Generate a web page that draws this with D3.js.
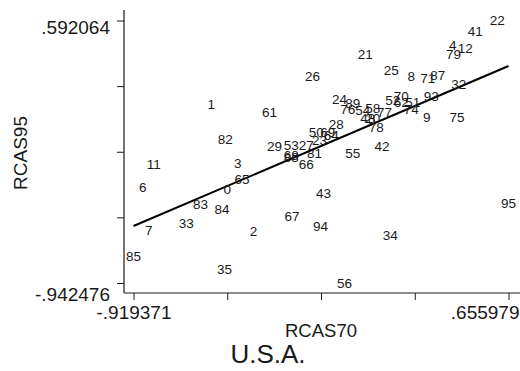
<!DOCTYPE html>
<html><head><meta charset="utf-8">
<script src="https://cdn.jsdelivr.net/npm/d3@7"></script>
<style>
html,body{margin:0;padding:0;background:#fff;}
svg{display:block;font-family:"Liberation Sans",Arial,sans-serif;}
</style></head>
<body>
<script>
const labels = ["22","41","4","12","79","21","25","26","8","71","87","32","93","9","75","1","61","82","24","89","76","54","58","77","48","20","78","28","52","70","62","51","74","50","69","64","29","53","27","23","68","88","81","66","11","6","3","65","0","83","84","33","7","2","85","35","67","94","43","55","42","34","56","95"];
const xValues = [0.609,0.516,0.422,0.474,0.425,0.054,0.163,-0.167,0.247,0.317,0.359,0.447,0.331,0.313,0.440,-0.593,-0.348,-0.534,-0.054,0.002,-0.019,0.044,0.086,0.135,0.065,0.086,0.100,-0.068,0.170,0.205,0.205,0.254,0.247,-0.152,-0.103,-0.089,-0.327,-0.257,-0.194,-0.138,-0.257,-0.257,-0.159,-0.194,-0.834,-0.880,-0.481,-0.464,-0.526,-0.638,-0.548,-0.698,-0.855,-0.415,-0.919371,-0.537,-0.253,-0.134,-0.121,0.002,0.125,0.159,-0.033,0.655979];
const yValues = [0.592064,0.532,0.449,0.430,0.394,0.394,0.299,0.268,0.268,0.254,0.273,0.219,0.147,0.030,0.030,0.102,0.059,-0.102,0.133,0.108,0.075,0.069,0.082,0.059,0.020,0.020,-0.029,-0.015,0.127,0.147,0.117,0.117,0.075,-0.058,-0.058,-0.077,-0.142,-0.136,-0.136,-0.107,-0.194,-0.206,-0.184,-0.247,-0.249,-0.385,-0.243,-0.336,-0.393,-0.482,-0.512,-0.593,-0.633,-0.639,-0.783,-0.862,-0.549,-0.608,-0.418,-0.181,-0.142,-0.662,-0.942476,-0.477];
const xTicks = [-0.919371,-0.525533,-0.131696,0.262142,0.655979];
const yTicks = [0.592064,0.208429,-0.175206,-0.558841,-0.942476];
const xTickLabels = ["-.919371","","","",".655979"];
const yTickLabels = [".592064","","","","-.942476"];
const fitIntercept = -0.0634;
const fitSlope = 0.5937;
const xTitle = "RCAS70", yTitle = "RCAS95", chartTitle = "U.S.A.";

const W = 520, H = 371;
const svg = d3.select("body").append("svg").attr("width", W).attr("height", H);
const x = d3.scaleLinear().domain([-0.919371, 0.655979]).range([133.5, 508.5]);
const y = d3.scaleLinear().domain([-0.942476, 0.592064]).range([283, 20.5]);
const axisX = 124, axisY = 293;
const ink = "#1a1a1a";

// axis lines
svg.append("line").attr("x1", axisX).attr("x2", axisX).attr("y1", 10).attr("y2", axisY).attr("stroke", ink).attr("stroke-width", 1.2);
svg.append("line").attr("x1", axisX).attr("x2", W).attr("y1", axisY).attr("y2", axisY).attr("stroke", ink).attr("stroke-width", 1.2);

// y axis ticks
const gy = svg.append("g").attr("transform", `translate(${axisX},0)`)
  .call(d3.axisLeft(y).tickValues(yTicks).tickSize(7).tickSizeOuter(0).tickFormat((d,i)=>yTickLabels[i]));
gy.select(".domain").remove();
gy.selectAll(".tick line").attr("stroke", ink);
gy.selectAll(".tick text").attr("font-size", 19).attr("fill", ink).attr("font-family", "Liberation Sans, Arial, sans-serif")
  .attr("x", -14).attr("dy", (d,i)=> i===0 ? "0.68em" : "0.9em");

// x axis ticks
const gx = svg.append("g").attr("transform", `translate(0,${axisY})`)
  .call(d3.axisBottom(x).tickValues(xTicks).tickSize(7).tickSizeOuter(0).tickFormat((d,i)=>xTickLabels[i]));
gx.select(".domain").remove();
gx.selectAll(".tick line").attr("stroke", ink);
gx.selectAll(".tick text").attr("font-size", 19).attr("fill", ink).attr("font-family", "Liberation Sans, Arial, sans-serif")
  .attr("y", 13).attr("dy", "0.71em")
  .attr("text-anchor", (d,i)=> i===xTicks.length-1 ? "end" : "middle")
  .attr("x", (d,i)=> i===xTicks.length-1 ? (W - 1) - x(d) : 0);

// regression line
const xExt = d3.extent(xValues);
svg.append("line")
  .attr("x1", x(xExt[0])).attr("y1", y(fitIntercept + fitSlope*xExt[0]))
  .attr("x2", x(xExt[1])).attr("y2", y(fitIntercept + fitSlope*xExt[1]))
  .attr("stroke", "#000").attr("stroke-width", 2);

// labels as markers
svg.append("g").selectAll("text").data(labels).join("text")
  .attr("x", (d,i)=>x(xValues[i])).attr("y", (d,i)=>y(yValues[i]))
  .attr("text-anchor", "middle").attr("dy", "0.36em")
  .attr("font-size", 13.5).attr("fill", ink)
  .text(d=>d);

// titles
svg.append("text").attr("transform", "translate(27,153) rotate(-90)").attr("text-anchor", "middle")
  .attr("font-size", 19).attr("fill", ink).text(yTitle);
svg.append("text").attr("x", 321).attr("y", 330).attr("dy", "0.36em").attr("text-anchor", "middle")
  .attr("font-size", 18.5).attr("fill", ink).text(xTitle);
svg.append("text").attr("x", 268).attr("y", 354).attr("dy", "0.36em").attr("text-anchor", "middle")
  .attr("font-size", 26).attr("fill", ink).text(chartTitle);
</script>
</body></html>
